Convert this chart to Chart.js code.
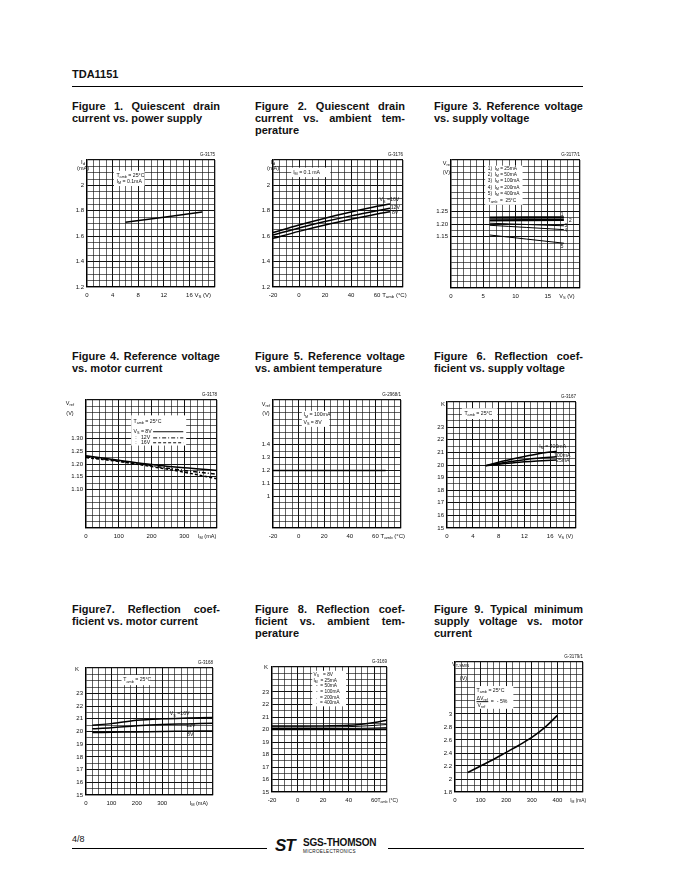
<!DOCTYPE html>
<html>
<head>
<meta charset="utf-8">
<script src="https://cdn.jsdelivr.net/npm/chart.js@4.4.1/dist/chart.umd.min.js"></script>
<style>
  body { margin: 0; width: 680px; height: 880px; position: relative; overflow: hidden; background: #fff; color: #111; font-family: "Liberation Sans", Arial, sans-serif; }
  .abs { position: absolute; }
  .cap { position: absolute; font-weight: bold; font-size: 11px; line-height: 12px; }
  .cap .j { text-align: justify; text-align-last: justify; }
  .rule { position: absolute; background: #000; }
</style>
</head>
<body>

<div class="abs" style="left:72px;top:68px;font-weight:bold;font-size:11px">TDA1151</div>
<div class="rule" style="left:72px;top:85.5px;width:511px;height:1.3px"></div>

<div class="cap" style="left:72px;top:100px;width:148px"><div class="j">Figure 1. Quiescent drain</div><div>current vs. power supply</div></div>
<div class="cap" style="left:255px;top:100px;width:150px"><div class="j">Figure 2. Quiescent drain</div><div class="j">current vs. ambient tem-</div><div>perature</div></div>
<div class="cap" style="left:434px;top:100px;width:149px"><div class="j">Figure 3. Reference voltage</div><div>vs. supply voltage</div></div>

<div class="cap" style="left:72px;top:350px;width:148px"><div class="j">Figure 4. Reference voltage</div><div>vs. motor current</div></div>
<div class="cap" style="left:255px;top:350px;width:150px"><div class="j">Figure 5. Reference voltage</div><div>vs. ambient temperature</div></div>
<div class="cap" style="left:434px;top:350px;width:149px"><div class="j">Figure 6. Reflection coef-</div><div>ficient vs. supply voltage</div></div>

<div class="cap" style="left:72px;top:603px;width:148px"><div class="j">Figure7. Reflection coef-</div><div>ficient vs. motor current</div></div>
<div class="cap" style="left:255px;top:603px;width:150px"><div class="j">Figure 8. Reflection coef-</div><div class="j">ficient vs. ambient tem-</div><div>perature</div></div>
<div class="cap" style="left:434px;top:603px;width:149px"><div class="j">Figure 9. Typical minimum</div><div class="j">supply voltage vs. motor</div><div>current</div></div>

<div class="abs" style="left:72px;top:834px;font-size:9px">4/8</div>
<div class="rule" style="left:72px;top:848px;width:195px;height:1px"></div>
<div class="rule" style="left:388px;top:848px;width:196px;height:1px"></div>
<div class="abs" style="left:275px;top:836px;font-weight:bold;font-style:italic;font-size:17px;letter-spacing:-1px">ST</div>
<div class="abs" style="left:303px;top:837px;font-weight:bold;font-size:10px;letter-spacing:-0.2px">SGS-THOMSON</div>
<div class="abs" style="left:303px;top:849px;font-size:4.6px;letter-spacing:0.3px">MICROELECTRONICS</div>

<script>
// Figure 1: Id vs Vs
const f1X = [6, 18];
const f1Id = [1.71, 1.79];
const f1XTicks = ['0', '4', '8', '12', '16'];
const f1YTicks = ['1.2', '1.4', '1.6', '1.8', '2'];

// Figure 2: Id vs Tamb
const f2X = [-20, 0, 20, 40, 60, 70];
const f2Vs16 = [1.628, 1.688, 1.742, 1.79, 1.835, 1.854];
const f2Vs12 = [1.609, 1.665, 1.715, 1.76, 1.80, 1.82];
const f2Vs8 = [1.583, 1.638, 1.688, 1.733, 1.775, 1.793];
const f2XTicks = ['-20', '0', '20', '40', '60'];
const f2YTicks = ['1.2', '1.4', '1.6', '1.8', '2'];

// Figure 3: Vref vs Vs
const f3X = [6, 17.5];
const f3I25 = [1.225, 1.226];
const f3I50 = [1.214, 1.216];
const f3I100 = [1.203, 1.193];
const f3I200 = [1.195, 1.178];
const f3I400 = [1.157, 1.125];
const f3XTicks = ['0', '5', '10', '15'];
const f3YTicks = ['1.15', '1.20', '1.25'];

// Figure 4: Vref vs IM
const f4X = [0, 100, 200, 300, 400];
const f4Vs8 = [1.232, 1.215, 1.198, 1.185, 1.175];
const f4Vs12 = [1.228, 1.212, 1.193, 1.175, 1.16];
const f4Vs16 = [1.225, 1.21, 1.19, 1.168, 1.142];
const f4XTicks = ['0', '100', '200', '300'];
const f4YTicks = ['1.10', '1.15', '1.20', '1.25', '1.30'];

// Figure 5: Vref vs Tamb
const f5X = [-20, 0, 20, 40, 60, 68];
const f5Vref = [1.2, 1.2, 1.2, 1.2, 1.2, 1.2];
const f5XTicks = ['-20', '0', '20', '40', '60'];
const f5YTicks = ['1', '1.1', '1.2', '1.3', '1.4'];

// Figure 6: K vs Vs
const f6X = [6, 8, 10, 12, 14, 17];
const f6I400 = [19.95, 20.22, 20.45, 20.68, 20.88, 21.1];
const f6I100 = [19.95, 20.12, 20.28, 20.42, 20.53, 20.65];
const f6I25 = [19.95, 20.06, 20.16, 20.25, 20.32, 20.4];
const f6XTicks = ['0', '4', '8', '12', '16'];
const kTicks = ['15', '16', '17', '18', '19', '20', '21', '22', '23'];

// Figure 7: K vs IM
const f7X = [25, 100, 200, 300, 400, 500];
const f7Vs16 = [20.5, 20.62, 20.88, 21.0, 21.06, 21.1];
const f7Vs12 = [20.22, 20.3, 20.45, 20.55, 20.6, 20.65];
const f7Vs8 = [19.92, 19.94, 19.97, 20.0, 20.02, 20.04];
const f7XTicks = ['0', '100', '200', '300'];

// Figure 8: K vs Tamb
const f8X = [-20, 0, 20, 40, 50, 60, 70];
const f8I25 = [20.0, 20.0, 20.0, 20.0, 20.0, 20.0, 20.0];
const f8I50 = [20.03, 20.03, 20.03, 20.03, 20.03, 20.04, 20.05];
const f8I100 = [20.08, 20.08, 20.08, 20.09, 20.1, 20.12, 20.15];
const f8I200 = [20.2, 20.2, 20.2, 20.23, 20.27, 20.33, 20.4];
const f8I400 = [20.28, 20.28, 20.29, 20.34, 20.42, 20.56, 20.75];
const f8XTicks = ['-20', '0', '20', '40', '60'];

// Figure 9: Vs min vs IM
const f9X = [50, 100, 150, 200, 250, 300, 350, 400];
const f9Vmin = [2.1, 2.2, 2.3, 2.41, 2.52, 2.64, 2.79, 2.98];
const f9XTicks = ['0', '100', '200', '300', '400'];
const f9YTicks = ['1.8', '2', '2.2', '2.4', '2.6', '2.8', '3'];

const FONT = '"Liberation Sans", Arial, sans-serif';
const NOTES = {};

function pts(xs, ys) {
  return xs.map((x, i) => ({ x: x, y: ys[i] }));
}

// text with _{sub} parts
function rich(ctx, str, x, y, size, align) {
  const parts = [];
  const re = /_\{([^}]*)\}/g;
  let last = 0, m;
  while ((m = re.exec(str))) {
    if (m.index > last) parts.push({ t: str.slice(last, m.index), sub: false });
    parts.push({ t: m[1], sub: true });
    last = re.lastIndex;
  }
  if (last < str.length) parts.push({ t: str.slice(last), sub: false });
  let w = 0;
  parts.forEach(p => {
    ctx.font = (p.sub ? size * 0.72 : size) + 'px ' + FONT;
    p.w = ctx.measureText(p.t).width;
    w += p.w;
  });
  let cx = align === 'right' ? x - w : align === 'center' ? x - w / 2 : x;
  ctx.textAlign = 'left';
  ctx.textBaseline = 'middle';
  parts.forEach(p => {
    ctx.font = (p.sub ? size * 0.72 : size) + 'px ' + FONT;
    ctx.fillText(p.t, cx, y + (p.sub ? size * 0.3 : 0));
    cx += p.w;
  });
}

Chart.register({
  id: 'notes',
  beforeDatasetsDraw(chart) {
    const ctx = chart.ctx, sx = chart.scales.x, sy = chart.scales.y;
    ctx.save();
    ctx.fillStyle = '#fff';
    (NOTES[chart.canvas.id] || []).filter(n => n.box).forEach(n => {
      const x1 = sx.getPixelForValue(n.box[0]), x2 = sx.getPixelForValue(n.box[1]);
      const y1 = sy.getPixelForValue(n.box[2]), y2 = sy.getPixelForValue(n.box[3]);
      ctx.fillRect(x1, y1, x2 - x1, y2 - y1);
    });
    ctx.restore();
  },
  afterDraw(chart) {
    const ctx = chart.ctx, sx = chart.scales.x, sy = chart.scales.y;
    ctx.save();
    ctx.fillStyle = '#111';
    ctx.strokeStyle = '#111';
    (NOTES[chart.canvas.id] || []).forEach(n => {
      if (n.line) {
        ctx.lineWidth = 1;
        ctx.setLineDash(n.dash || []);
        ctx.beginPath();
        ctx.moveTo(sx.getPixelForValue(n.line[0]), sy.getPixelForValue(n.line[2]));
        ctx.lineTo(sx.getPixelForValue(n.line[1]), sy.getPixelForValue(n.line[2]));
        ctx.stroke();
      }
      if (n.t) {
        rich(ctx, n.t, sx.getPixelForValue(n.x) + (n.dx || 0), sy.getPixelForValue(n.y) + (n.dy || 0), n.s || 5.2, n.a || 'left');
      }
    });
    ctx.restore();
  }
});

function axis(r, horizontal) {
  const vals = [];
  const n = Math.round((r.max - r.min) / r.step);
  for (let i = 0; i <= n; i++) vals.push(+(r.min + i * r.step).toFixed(6));
  const label = v => {
    const s = r.labels.find(s => Math.abs(Number(s) - v) < 1e-6);
    return s === undefined ? '' : s;
  };
  return {
    type: 'linear',
    min: r.min,
    max: r.max,
    afterBuildTicks: s => { s.ticks = vals.map(v => ({ value: v })); },
    afterFit: s => { if (horizontal) s.height = 14; else s.width = 26; },
    ticks: {
      autoSkip: false, maxRotation: 0, padding: horizontal ? 5 : 3,
      color: '#111', font: { size: 6, family: FONT },
      callback: v => label(v)
    },
    grid: {
      drawTicks: false,
      color: '#111',
      lineWidth: c => {
        const v = c.tick.value;
        if (Math.abs(v - r.min) < 1e-6 || Math.abs(v - r.max) < 1e-6) return 1.3;
        return label(v) !== '' ? 1 : 0.65;
      }
    },
    border: { color: '#000', width: 1.3 }
  };
}

function figure(id, area, xr, yr, sets, notes) {
  const c = document.createElement('canvas');
  const w = area[2] - area[0] + 52, h = area[3] - area[1] + 26;
  c.id = id;
  c.width = w;
  c.height = h;
  c.style.cssText = 'position:absolute;left:' + (area[0] - 26) + 'px;top:' + (area[1] - 12) + 'px;width:' + w + 'px;height:' + h + 'px';
  document.body.appendChild(c);
  NOTES[id] = notes;
  new Chart(c, {
    type: 'line',
    data: {
      datasets: sets.map(s => ({
        data: s.data, borderColor: '#000', borderWidth: s.w || 1.5, borderDash: s.dash || [],
        pointRadius: 0, tension: 0.35, fill: false
      }))
    },
    options: {
      responsive: false,
      animation: false,
      layout: { padding: { left: 0, top: 12, right: 26, bottom: 0 } },
      plugins: { legend: { display: false }, tooltip: { enabled: false } },
      scales: { x: axis(xr, true), y: axis(yr, false) }
    }
  });
}

figure('fig1', [87, 160, 215, 287],
  { min: 0, max: 20, step: 1, labels: f1XTicks },
  { min: 1.2, max: 2.2, step: 0.05, labels: f1YTicks },
  [{ data: pts(f1X, f1Id) }],
  [
    { box: [4.2, 9.0, 2.115, 1.995] },
    { x: 4.6, y: 2.08, t: 'T_{amb} = 25°C' },
    { x: 4.6, y: 2.03, t: 'I_{M} = 0.1mA' },
    { x: 0, dx: -4, y: 2.2, dy: 2, t: 'I_{d}', a: 'center', s: 6 },
    { x: 0, dx: -4, y: 2.2, dy: 8, t: '(mA)', a: 'center', s: 5.5 },
    { x: 20, y: 2.2, dy: -5, t: 'G-3175', a: 'right', s: 4.5 },
    { x: 16.8, y: 1.2, dy: 8.5, t: 'V_{S} (V)', s: 6 }
  ]);

figure('fig2', [273, 160, 403, 287],
  { min: -20, max: 80, step: 5, labels: f2XTicks },
  { min: 1.2, max: 2.2, step: 0.05, labels: f2YTicks },
  [{ data: pts(f2X, f2Vs16) }, { data: pts(f2X, f2Vs12) }, { data: pts(f2X, f2Vs8) }],
  [
    { box: [-6, 24, 2.14, 2.065] },
    { x: -4.5, y: 2.1, t: 'I_{M} = 0.1 mA' },
    { x: 62, y: 1.885, t: 'V_{S} =16V' },
    { x: 70.5, y: 1.823, t: '12V' },
    { x: 71.5, y: 1.788, t: '8V' },
    { x: -20, y: 2.2, dy: 2, t: 'I_{d}', a: 'center', s: 6 },
    { x: -20, y: 2.2, dy: 8, t: '(mA)', a: 'center', s: 5.5 },
    { x: 80, y: 2.2, dy: -5, t: 'G-3176', a: 'right', s: 4.5 },
    { x: 64, y: 1.2, dy: 8.5, t: 'T_{amb} (°C)', s: 6 }
  ]);

figure('fig3', [451, 160, 580, 288],
  { min: 0, max: 20, step: 1, labels: f3XTicks },
  { min: 0.95, max: 1.45, step: 0.025, labels: f3YTicks },
  [
    { data: pts(f3X, f3I25), w: 2.4 }, { data: pts(f3X, f3I50), w: 2.4 },
    { data: pts(f3X, f3I100), w: 1 }, { data: pts(f3X, f3I200), w: 1 }, { data: pts(f3X, f3I400), w: 1 }
  ],
  [
    { box: [5.3, 11.1, 1.428, 1.275] },
    { x: 5.7, y: 1.418, t: '1)  I_{M} = 25mA', s: 4.8 },
    { x: 5.7, y: 1.393, t: '2)  I_{M} = 50mA', s: 4.8 },
    { x: 5.7, y: 1.368, t: '3)  I_{M} = 100mA', s: 4.8 },
    { x: 5.7, y: 1.342, t: '4)  I_{M} = 200mA', s: 4.8 },
    { x: 5.7, y: 1.317, t: '5)  I_{M} = 400mA', s: 4.8 },
    { x: 5.7, y: 1.291, t: 'T_{amb}  =  25°C', s: 4.8 },
    { x: 17.0, y: 1.236, t: '1', s: 4.8 },
    { x: 18.3, y: 1.213, t: '2', s: 4.8 },
    { x: 17.6, y: 1.193, t: '3', s: 4.8 },
    { x: 17.6, y: 1.174, t: '4', s: 4.8 },
    { x: 17.0, y: 1.11, t: '5', s: 4.8 },
    { x: 0, dx: 0, y: 1.45, dy: 3, t: 'V_{ref}', a: 'right', s: 5.5 },
    { x: 0, dx: -1, y: 1.45, dy: 12, t: '(V)', a: 'right', s: 5.5 },
    { x: 20, y: 1.45, dy: -5, t: 'G-3177/1', a: 'right', s: 4.5 },
    { x: 16.8, y: 0.95, dy: 8.5, t: 'V_{S} (V)', s: 5.5 }
  ]);

figure('fig4', [86, 400, 217, 528],
  { min: 0, max: 400, step: 20, labels: f4XTicks },
  { min: 0.95, max: 1.45, step: 0.025, labels: f4YTicks },
  [
    { data: pts(f4X, f4Vs8) },
    { data: pts(f4X, f4Vs12), dash: [4, 2, 1, 2] },
    { data: pts(f4X, f4Vs16), dash: [3, 2] }
  ],
  [
    { box: [138, 306, 1.39, 1.272] },
    { x: 145, y: 1.365, t: 'T_{amb} = 25°C' },
    { x: 145, y: 1.326, t: 'V_{S} = 8V' },
    { x: 150, y: 1.302, t: ':   12V' },
    { x: 150, y: 1.283, t: ':   16V' },
    { line: [205, 297, 1.326] },
    { line: [205, 297, 1.302], dash: [4, 2, 1, 2] },
    { line: [205, 297, 1.283], dash: [3, 2] },
    { x: 0, dx: -16, y: 1.45, dy: 3, t: 'V_{ref}', a: 'center', s: 5.5 },
    { x: 0, dx: -16, y: 1.45, dy: 13, t: '(V)', a: 'center', s: 5.5 },
    { x: 400, y: 1.45, dy: -5, t: 'G-3178', a: 'right', s: 4.5 },
    { x: 342, y: 0.95, dy: 8.5, t: 'I_{M} (mA)', s: 5.5 }
  ]);

figure('fig5', [273, 400, 401, 528],
  { min: -20, max: 80, step: 5, labels: f5XTicks },
  { min: 0.75, max: 1.75, step: 0.05, labels: f5YTicks },
  [{ data: pts(f5X, f5Vref), w: 1.5 }],
  [
    { box: [2.5, 24, 1.665, 1.54] },
    { x: 3.8, y: 1.633, t: 'I_{M} = 100mA' },
    { x: 3.8, y: 1.573, t: 'V_{S} = 8V' },
    { x: -20, dx: -7, y: 1.75, dy: 4, t: 'V_{ref}', a: 'center', s: 5.5 },
    { x: -20, dx: -7, y: 1.75, dy: 13, t: '(V)', a: 'center', s: 5.5 },
    { x: 80, y: 1.75, dy: -5, t: 'G-2968/1', a: 'right', s: 4.5 },
    { x: 64, y: 0.75, dy: 8.5, t: 'T_{amb} (°C)', s: 6 }
  ]);

figure('fig6', [447, 402, 576, 528],
  { min: 0, max: 20, step: 1, labels: f6XTicks },
  { min: 15, max: 25, step: 0.5, labels: kTicks },
  [{ data: pts(f6X, f6I400) }, { data: pts(f6X, f6I100) }, { data: pts(f6X, f6I25) }],
  [
    { box: [2.3, 7.8, 24.5, 23.65] },
    { x: 2.7, y: 24.08, t: 'T_{amb} = 25°C' },
    { x: 14.3, y: 21.45, t: 'I_{M} = 400mA' },
    { x: 16.6, y: 20.72, t: '100mA' },
    { x: 16.9, y: 20.38, t: '25mA' },
    { x: 0, dx: -2, y: 24.8, t: 'K', a: 'right', s: 6 },
    { x: 20, y: 25, dy: -5, t: 'G-3167', a: 'right', s: 4.5 },
    { x: 17.2, y: 15, dy: 8.5, t: 'V_{S} (V)', s: 5.5 }
  ]);

figure('fig7', [86, 668, 213, 795],
  { min: 0, max: 500, step: 25, labels: f7XTicks },
  { min: 15, max: 25, step: 0.5, labels: kTicks },
  [{ data: pts(f7X, f7Vs16) }, { data: pts(f7X, f7Vs12) }, { data: pts(f7X, f7Vs8) }],
  [
    { box: [140, 255, 24.45, 23.65] },
    { x: 147, y: 24.05, t: 'T_{amb} = 25°C' },
    { x: 330, y: 21.38, t: 'V_{S} =16V' },
    { x: 395, y: 20.43, t: '12V' },
    { x: 398, y: 19.73, t: '8V' },
    { x: 0, dx: -7, y: 24.9, t: 'K', a: 'right', s: 6 },
    { x: 500, y: 25, dy: -5, t: 'G-3168', a: 'right', s: 4.5 },
    { x: 408, y: 15, dy: 8.5, t: 'I_{M} (mA)', s: 5.5 }
  ]);

figure('fig8', [272, 667, 387, 792],
  { min: -20, max: 70, step: 5, labels: f8XTicks },
  { min: 15, max: 25, step: 0.5, labels: kTicks },
  [
    { data: pts(f8X, f8I25) }, { data: pts(f8X, f8I50), w: 1 }, { data: pts(f8X, f8I100), w: 1 },
    { data: pts(f8X, f8I200), w: 1 }, { data: pts(f8X, f8I400) }
  ],
  [
    { box: [11.5, 38, 24.7, 21.85] },
    { x: 12.5, y: 24.39, t: 'V_{S}   = 8V', s: 4.8 },
    { x: 12.5, y: 23.94, t: 'I_{M}  = 25mA', s: 4.8 },
    { x: 14.5, y: 23.48, t: '-  = 50mA', s: 4.8 },
    { x: 14.5, y: 23.02, t: '-  = 100mA', s: 4.8 },
    { x: 14.5, y: 22.57, t: '.  = 200mA', s: 4.8 },
    { x: 14.5, y: 22.12, t: '.  = 400mA', s: 4.8 },
    { x: -20, dx: -4, y: 25, t: 'K', a: 'right', s: 6 },
    { x: 70, y: 25, dy: -5, t: 'G-3169', a: 'right', s: 4.5 },
    { x: 62.5, y: 15, dy: 8.5, t: 'T_{amb} (°C)', s: 5 }
  ]);

figure('fig9', [455, 662, 583, 792],
  { min: 0, max: 500, step: 25, labels: f9XTicks },
  { min: 1.8, max: 3.8, step: 0.1, labels: f9YTicks },
  [{ data: pts(f9X, f9Vmin), w: 1.6 }],
  [
    { box: [78, 228, 3.43, 3.08] },
    { x: 84, y: 3.365, t: 'T_{amb} = 25°C' },
    { x: 84, y: 3.237, t: 'ΔV_{ref}' },
    { line: [84, 130, 3.19] },
    { x: 88, y: 3.134, t: 'V_{ref}' },
    { x: 140, y: 3.185, t: '=  - 5%' },
    { x: 0, dx: -3, y: 3.8, dy: 2, t: 'V_{T-SMIN}', s: 5.5 },
    { x: 19, y: 3.54, t: '(V)', s: 5.5 },
    { x: 500, y: 3.8, dy: -5, t: 'G-3179/1', a: 'right', s: 4.5 },
    { x: 450, y: 1.8, dy: 8.5, t: 'I_{M} (mA)', s: 4.8 }
  ]);
</script>
</body>
</html>
